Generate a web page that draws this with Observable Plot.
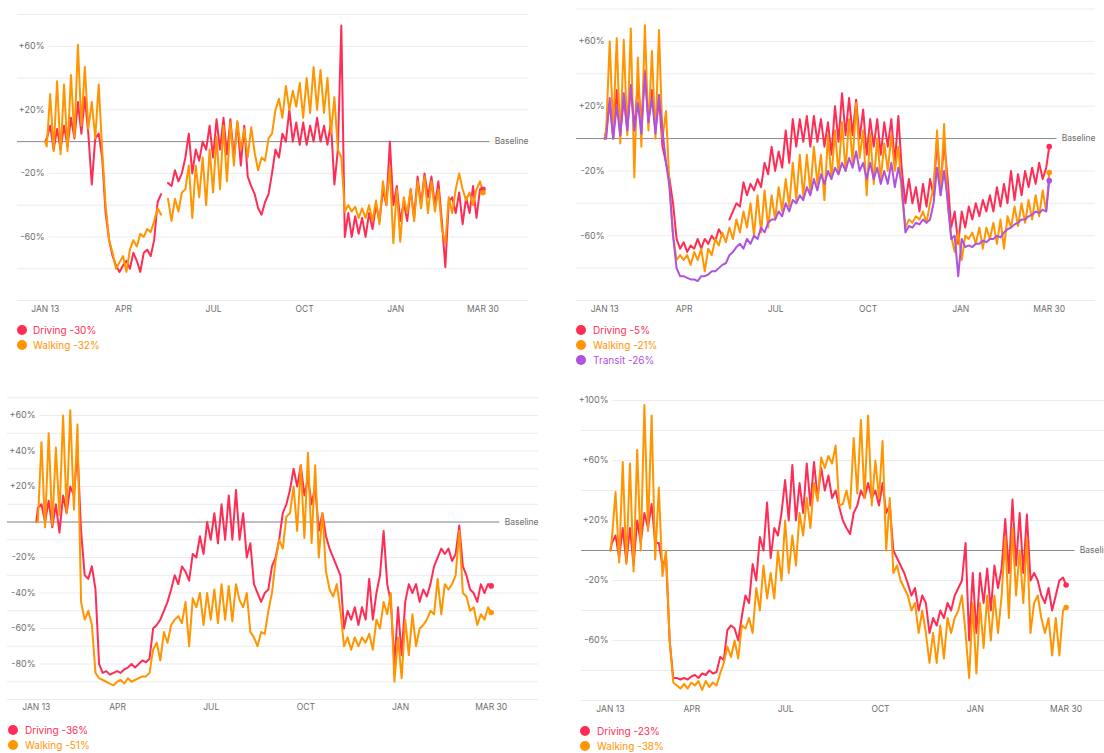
<!DOCTYPE html>
<html><head><meta charset="utf-8">
<script src="https://cdn.jsdelivr.net/npm/d3@7"></script>
<script src="https://cdn.jsdelivr.net/npm/@observablehq/plot@0.6"></script>
<style>
html,body{margin:0;padding:0;background:#fff;overflow:hidden;}
#page{position:relative;width:1104px;height:753px;overflow:hidden;font-family:Inter,"Liberation Sans",Arial,sans-serif;}
.panel{position:absolute;}
.panel svg{max-width:none !important;}
.lg{position:absolute;white-space:nowrap;font-size:10px;line-height:12px;}
.dot{position:absolute;width:10px;height:10px;border-radius:50%;}
</style></head>
<body><div id="page"></div>
<script>
// ---- data: values read at half-week steps (first = Jan 13 2020, last = Mar 30 2021) ----
const xTickDates = ["2020-01-13","2020-04-01","2020-07-01","2020-10-01","2021-01-01","2021-03-30"];
const xTickLabels = ["JAN 13","APR","JUL","OCT","JAN","MAR 30"];

const p1Driving = [0,
 2, 10, -5, 8, -5, 10, -3, 15, 2, 25,
 5, 28, 5, -27, 2, 5, -10, -45, -62, -72,
 -78, -82, -78, -75, -80, -70, -75, -82, -70, -68,
 -72, -62, -38, -33, null, -26, -28, -18, -25, -20,
 -10, 5, -20, -5, -12, 0, -5, 10, -10, 14,
 -5, 15, -8, 14, -10, 12, -15, 10, -22, -28,
 -33, -42, -46, -38, -33, -20, -5, -10, 5, 0,
 20, 0, 12, -2, 12, -2, 10, 0, 15, 0,
 10, -2, 12, -27, -5, 73, -60, -45, -60, -47,
 -58, -48, -60, -45, -55, -40, -50, -30, -40, 0,
 -40, -28, -50, -38, -50, -30, -48, -22, -40, -20,
 -35, -22, -40, -25, -50, -79, -38, -35, -45, -32,
 -52, -35, -45, -28, -48, -30,
 -30];
const p1Walking = [0,
 -3, 30, -6, 38, -8, 36, -6, 42, 3, 61,
 10, 47, 8, 25, 2, 36, -5, -40, -62, -70,
 -80, -76, -72, -82, -68, -62, -66, -58, -60, -55,
 -57, -50, -42, -46, null, -36, -50, -36, -44, -32,
 -30, -15, -48, -15, -35, -10, -40, -5, -32, 3,
 -30, 10, -25, 12, -15, 13, -5, 8, -10, 9,
 -7, -18, -10, -12, 2, 5, 20, 27, 15, 35,
 20, 32, 22, 37, 15, 40, 18, 47, 20, 45,
 18, 40, 5, 28, -5, -10, -44, -40, -44, -41,
 -48, -42, -48, -40, -50, -37, -52, -25, -40, -16,
 -64, -30, -63, -35, -45, -30, -50, -25, -42, -22,
 -45, -25, -44, -30, -55, -64, -35, -45, -30, -20,
 -30, -37, -32, -40, -30, -25,
 -32];

const p2Driving = [0,
 5, 22, 0, 30, 2, 25, 5, 33, 5, 35,
 10, 42, 10, 30, 5, 25, -5, -15, -25, -40,
 -62, -68, -64, -70, -66, -68, -62, -68, -62, -65,
 -60, -63, -56, -60, null, -50, -45, -40, -42, -27,
 -35, -28, -32, -25, -30, -15, -22, -5, -20, -8,
 -18, 5, -15, 12, -5, 12, -2, 14, -5, 14,
 -2, 12, -5, 10, -10, 20, -2, 28, 2, 25,
 2, 24, 0, 18, -10, 12, -5, 12, -10, 10,
 -5, 12, -15, 14, -20, -40, -25, -40, -30, -45,
 -28, -42, -25, -35, 0, -30, -2, -25, -55, -45,
 -65, -45, -55, -42, -50, -40, -48, -38, -45, -35,
 -45, -30, -42, -28, -40, -20, -38, -22, -35, -20,
 -30, -18, -28, -15, -25, -18,
 -5];
const p2Walking = [0,
 5, 60, 5, 62, -3, 61, 2, 68, -24, 50,
 -5, 70, 5, 54, 0, 67, 0, 17, -30, -60,
 -75, -72, -75, -72, -78, -70, -75, -68, -82, -68,
 -72, -62, -66, -58, -64, -55, -62, -50, -58, -45,
 -55, -40, -60, -35, -58, -32, -55, -35, -50, -30,
 -45, -25, -42, -15, -38, -10, -36, -10, -33, -5,
 -28, -10, -38, 2, -25, 5, -22, 10, -20, 12,
 -15, 22, -12, 5, -35, 3, -28, 0, -25, -3,
 -20, 2, -20, -5, -35, -55, -50, -52, -48, -50,
 -45, -52, -40, -30, 5, -35, 9, -40, -60, -70,
 -58, -75, -60, -62, -58, -65, -55, -68, -55, -62,
 -52, -65, -50, -68, -48, -55, -42, -54, -40, -52,
 -38, -50, -35, -48, -32, -45,
 -21];
const p2Transit = [0,
 0, 25, 0, 20, 2, 28, 5, 33, 5, 22,
 3, 40, 10, 25, 3, 27, 5, -15, -30, -60,
 -80, -85, -85, -86, -87, -87, -88, -85, -85, -84,
 -82, -82, -80, -78, -77, -72, -70, -67, -65, -68,
 -62, -65, -60, -62, -55, -58, -52, -50, -50, -45,
 -48, -40, -45, -38, -40, -35, -38, -30, -35, -25,
 -32, -22, -28, -20, -25, -18, -22, -15, -20, -12,
 -18, -8, -20, -15, -25, -15, -25, -18, -28, -20,
 -28, -15, -30, -18, -28, -58, -54, -55, -52, -53,
 -50, -52, -50, -40, -18, -35, -20, -38, -62, -60,
 -85, -62, -67, -66, -67, -65, -65, -63, -64, -62,
 -62, -60, -61, -58, -56, -55, -53, -52, -50, -50,
 -48, -47, -45, -46, -44, -45,
 -26];

const p3Driving = [0,
 8, 10, 0, 12, -3, 10, -6, 15, 5, 20,
 15, 40, -5, -30, -32, -25, -38, -80, -85, -84,
 -86, -85, -84, -85, -83, -82, -80, -82, -80, -78,
 -79, -77, -60, -58, -55, -50, -45, -38, -30, -35,
 -25, -28, -33, -18, -20, -8, -18, 0, -10, 5,
 -12, 10, -10, 15, -10, 18, -10, 5, -20, -12,
 -35, -40, -45, -40, -38, -25, -20, -10, 5, 10,
 18, 30, 20, 32, 15, 25, 10, 20, -5, 5,
 -8, -15, -20, -25, -30, -60, -50, -55, -48, -58,
 -48, -55, -32, -55, -40, -30, -5, -35, -45, -80,
 -48, -75, -45, -35, -40, -35, -45, -38, -42, -35,
 -25, -20, -15, -18, -15, -22, -18, -2, -25, -30,
 -38, -40, -45, -35, -40, -35,
 -36];
const p3Walking = [0,
 0, 45, -3, 50, -2, 42, 4, 60, 5, 63,
 7, 55, -45, -55, -50, -58, -85, -88, -89, -90,
 -91, -92, -90, -89, -91, -88, -90, -89, -88, -87,
 -87, -85, -72, -68, -78, -62, -68, -58, -55, -53,
 -57, -45, -70, -43, -48, -40, -58, -40, -55, -38,
 -57, -35, -55, -36, -56, -35, -44, -48, -40, -62,
 -65, -70, -62, -63, -50, -40, -22, -10, -15, 3,
 5, 20, -5, 32, -9, 39, -12, 32, -20, 5,
 -28, -38, -42, -35, -50, -70, -65, -72, -65, -70,
 -65, -68, -63, -72, -55, -60, -45, -52, -40, -90,
 -65, -88, -55, -75, -52, -70, -60, -58, -55, -50,
 -52, -32, -52, -35, -38, -35, -30, -5, -40, -42,
 -50, -48, -58, -52, -55, -48,
 -51];

const p4Driving = [0,
 5, 10, -5, 15, -8, 15, -10, 20, 5, 25,
 15, 31, 5, 5, -10, -5, -60, -85, -85, -86,
 -85, -86, -84, -83, -85, -82, -83, -80, -82, -81,
 -71, -73, -53, -50, -52, -60, -44, -30, -35, -9,
 -20, 9, 0, 32, -5, 15, 10, 25, 47, 20,
 57, 20, 45, 25, 58, 30, 59, 35, 55, 40,
 50, 35, 40, 29, 20, 15, 11, 25, 30, 40,
 35, 45, 35, 40, 30, 45, 25, 30, 0, -5,
 -10, -15, -22, -30, -25, -40, -30, -35, -55, -45,
 -50, -40, -45, -35, -40, -30, -25, -20, 5, -60,
 -15, -55, -15, -35, -12, -40, -10, -25, -12, 21,
 -15, 34, -10, 25, -15, 24, -20, -15, -20, -30,
 -35, -25, -40, -30, -20, -18,
 -23];
const p4Walking = [0,
 8, 39, -8, 59, -9, 58, -14, 67, 0, 97,
 13, 90, -6, 42, -17, 0, -60, -88, -90, -92,
 -89, -92, -88, -90, -87, -93, -87, -91, -88, -90,
 -82, -75, -64, -71, -60, -72, -50, -52, -45, -55,
 -25, -40, -10, -32, -15, -32, 0, -20, 20, -15,
 10, -10, 25, 10, 35, 15, 45, 33, 62, 55,
 63, 58, 70, 30, 31, 40, 28, 75, 38, 87,
 35, 90, 30, 60, 35, 73, 0, 35, -15, -10,
 -20, -25, -30, -40, -35, -55, -40, -55, -75, -55,
 -75, -50, -72, -45, -55, -45, -40, -30, -55, -85,
 -35, -82, -35, -65, -30, -60, -30, -55, -30, 9,
 -45, 15, -30, 0, -35, 8, -55, -35, -30, -45,
 -55, -45, -70, -45, -70, -40,
 -38];

// y ticks per panel
const p1Grid = [80, 60, 40, 20, 0, -20, -40, -60, -80, -100];
const p1Labels = [60, 20, -20, -60];
const p2Grid = [80, 60, 40, 20, 0, -20, -40, -60, -80, -100];
const p2Labels = [60, 20, -20, -60];
const p3Grid = [70, 60, 50, 40, 30, 20, 10, 0, -10, -20, -30, -40, -50, -60, -70, -80, -90, -100];
const p3Labels = [60, 40, 20, -20, -40, -60, -80];
const p4Grid = [100, 80, 60, 40, 20, 0, -20, -40, -60, -80, -100];
const p4Labels = [100, 60, 20, -20, -60];

// ---- presentation ----
const COLORS = {Driving: "#ff2d55", Walking: "#ff9500", Transit: "#af52de"};
const t0 = Date.UTC(2020, 0, 13);
const DAY = 864e5;
const stepDays = [0].concat(d3.range(126).map(k => 1.5 + 3.5 * k), [442]);
const xDomain = [new Date(Date.UTC(2019, 11, 16)), new Date(Date.UTC(2021, 4, 15))];
const xTicks = xTickDates.map((d, i) => ({date: new Date(d + "T00:00:00Z"), label: xTickLabels[i]}));
const fmtPct = d => (d > 0 ? "+" : "") + d + "%";

const panels = [
  {left: 0, top: 0, width: 540, height: 318, mL: 17, mR: 12, mT: 14, mB: 18, yDomain: [-100, 80],
   grid: p1Grid, labels: p1Labels, labelDx: 27, xDy: 8.7,
   series: [["Driving", p1Driving], ["Walking", p1Walking]], lgDotX: 21.5, lgTextX: 33, lgY: 330},
  {left: 560, top: 0, width: 544, height: 318, mL: 16, mR: 9, mT: 8.5, mB: 18, yDomain: [-100, 80],
   grid: p2Grid, labels: p2Labels, labelDx: 28, xDy: 8.7,
   series: [["Driving", p2Driving], ["Walking", p2Walking], ["Transit", p2Transit]], lgDotX: 21, lgTextX: 33, lgY: 330},
  {left: 0, top: 385, width: 545, height: 330, mL: 7, mR: 7, mT: 12.3, mB: 16, yDomain: [-100, 70],
   grid: p3Grid, labels: p3Labels, labelDx: 28, xDy: 7.8,
   series: [["Driving", p3Driving], ["Walking", p3Walking]], lgDotX: 13, lgTextX: 25, lgY: 730},
  {left: 560, top: 385, width: 560, height: 330, mL: 21, mR: 7, mT: 15, mB: 15, yDomain: [-100, 100],
   grid: p4Grid, labels: p4Labels, labelDx: 27, xDy: 8.5,
   series: [["Driving", p4Driving], ["Walking", p4Walking]], lgDotX: 25, lgTextX: 37, lgY: 731}
];

const page = document.getElementById("page");

for (const p of panels) {
  const seriesRows = p.series.map(([name, vals]) =>
    vals.slice(0, stepDays.length).map((v, i) => ({date: new Date(t0 + stepDays[i] * DAY), value: v, series: name})));
  const lastRows = seriesRows.map(rows => rows[rows.length - 1]);

  const marks = [
    Plot.ruleY(p.grid, {stroke: "#ebebeb", strokeWidth: 1}),
    Plot.ruleY([0], {stroke: "#8c8c8c", strokeWidth: 1}),
    Plot.text(p.labels, {y: d => d, text: fmtPct, frameAnchor: "left", dx: p.labelDx, textAnchor: "end",
      lineAnchor: "middle", fill: "#6e6e6e", stroke: "white", strokeWidth: 10, fontSize: 9}),
    Plot.text([0], {y: d => d, text: () => "Baseline", frameAnchor: "right", textAnchor: "end",
      lineAnchor: "middle", fill: "#6e6e6e", stroke: "white", strokeWidth: 12, fontSize: 8.5}),
    Plot.text(xTicks, {x: "date", text: "label", frameAnchor: "bottom", dy: p.xDy, lineAnchor: "middle",
      fill: "#6e6e6e", fontSize: 8.5}),
    ...seriesRows.map((rows, i) => Plot.line(rows, {x: "date", y: "value",
      stroke: COLORS[p.series[i][0]], strokeWidth: 2, strokeLinejoin: "round", strokeLinecap: "round"})),
    ...lastRows.map(r => Plot.dot([r], {x: "date", y: "value", r: 2.8, fill: COLORS[r.series], stroke: "none"}))
  ];

  const svg = Plot.plot({
    width: p.width, height: p.height,
    marginLeft: p.mL, marginRight: p.mR, marginTop: p.mT, marginBottom: p.mB,
    x: {type: "utc", domain: xDomain, axis: null},
    y: {domain: p.yDomain, axis: null},
    style: {fontFamily: "Inter, 'Liberation Sans', Arial, sans-serif", background: "transparent", overflow: "visible", maxWidth: "none"},
    marks
  });
  const wrap = document.createElement("div");
  wrap.className = "panel";
  wrap.style.left = p.left + "px";
  wrap.style.top = p.top + "px";
  wrap.style.width = p.width + "px";
  wrap.style.height = p.height + "px";
  wrap.appendChild(svg);
  page.appendChild(wrap);

  // legend below the chart
  lastRows.forEach((r, i) => {
    const y = p.lgY + i * 15;
    const dot = document.createElement("div");
    dot.className = "dot";
    dot.style.background = COLORS[r.series];
    dot.style.left = (p.left + p.lgDotX - 5) + "px";
    dot.style.top = (y - 5) + "px";
    page.appendChild(dot);
    const t = document.createElement("div");
    t.className = "lg";
    t.style.color = COLORS[r.series];
    t.style.left = (p.left + p.lgTextX) + "px";
    t.style.top = (y - 6) + "px";
    t.textContent = r.series + " " + r.value + "%";
    page.appendChild(t);
  });
}
</script>
</body></html>
